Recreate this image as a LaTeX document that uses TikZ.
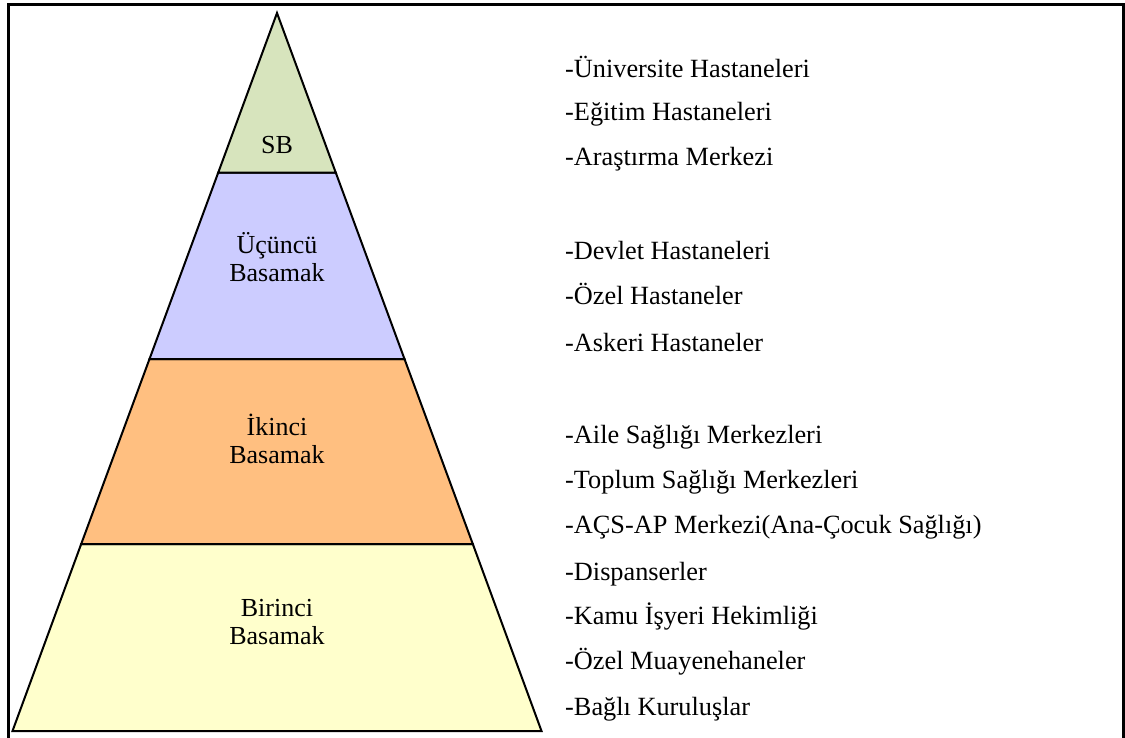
\documentclass[tikz,border=0pt]{standalone}
\usepackage{fontspec}
\setmainfont{Liberation Serif}
\definecolor{sbgreen}{HTML}{D7E4BD}
\definecolor{thirdblue}{HTML}{CCCCFF}
\definecolor{secondorange}{HTML}{FFBF80}
\definecolor{firstyellow}{HTML}{FFFFCC}
\begin{document}
\begin{tikzpicture}[x=1pt,y=-1pt,
  tier/.style={draw=black, line width=2pt, line join=miter},
  lbl/.style={font=\fontsize{26}{28}\selectfont, align=center, inner sep=0pt},
  item/.style={font=\fontsize{26.3}{28}\selectfont, anchor=base west, inner sep=0pt}]
\useasboundingbox (0,0) rectangle (1125,738);
% frame (its lower edge lies below the page)
\draw[line width=3pt] (8,760) -- (8,5) -- (1123,5) -- (1123,760);

% pyramid corners
\coordinate (apex) at (277,13);
\coordinate (l1) at (218.2,172.7); \coordinate (r1) at (335.8,172.7);
\coordinate (l2) at (149.5,359);   \coordinate (r2) at (404.5,359);
\coordinate (l3) at (81.2,544);    \coordinate (r3) at (472.8,544);
\coordinate (l4) at (12.5,731);    \coordinate (r4) at (541.5,731);

% tiers
\filldraw[tier, fill=firstyellow]  (l3) -- (r3) -- (r4) -- (l4) -- cycle;
\filldraw[tier, fill=secondorange] (l2) -- (r2) -- (r3) -- (l3) -- cycle;
\filldraw[tier, fill=thirdblue]    (l1) -- (r1) -- (r2) -- (l2) -- cycle;
\filldraw[tier, fill=sbgreen]      (apex) -- (r1) -- (l1) -- cycle;

% tier labels
\node[lbl] (sb)     at (277,145) {SB};
\node[lbl] (third)  at (277,257) {Üçüncü\\Basamak};
\node[lbl] (second) at (277,439) {İkinci\\Basamak};
\node[lbl] (first)  at (277,622) {Birinci\\Basamak};

% institutions
\node[item] (i1)  at (565,78)  {-Üniversite Hastaneleri};
\node[item] (i2)  at (565,121) {-Eğitim Hastaneleri};
\node[item] (i3)  at (565,166) {-Araştırma Merkezi};
\node[item] (i4)  at (565,260) {-Devlet Hastaneleri};
\node[item] (i5)  at (565,305) {-Özel Hastaneler};
\node[item] (i6)  at (565,351) {-Askeri Hastaneler};
\node[item] (i7)  at (565,443) {-Aile Sağlığı Merkezleri};
\node[item] (i8)  at (565,488) {-Toplum Sağlığı Merkezleri};
\node[item] (i9)  at (565,533) {-AÇS-AP Merkezi(Ana-Çocuk Sağlığı)};
\node[item] (i10) at (565,580) {-Dispanserler};
\node[item] (i11) at (565,624) {-Kamu İşyeri Hekimliği};
\node[item] (i12) at (565,669) {-Özel Muayenehaneler};
\node[item] (i13) at (565,715) {-Bağlı Kuruluşlar};
\end{tikzpicture}
\end{document}
